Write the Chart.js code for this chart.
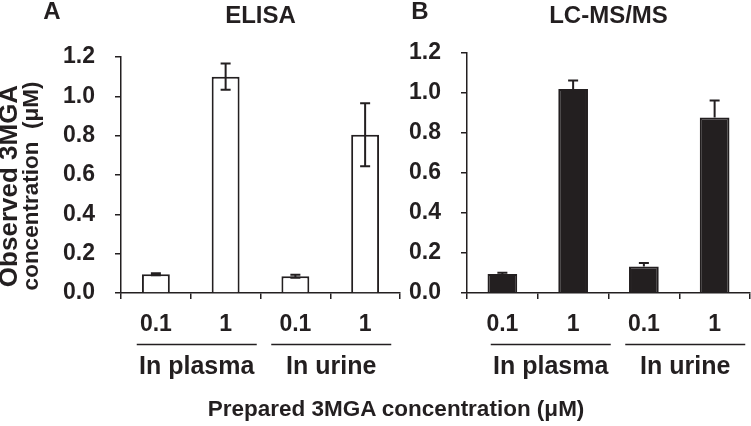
<!DOCTYPE html>
<html>
<head>
<meta charset="utf-8">
<script src="https://cdn.jsdelivr.net/npm/chart.js@4.4.0/dist/chart.umd.min.js"></script>
<style>
    body { margin: 0; background: #fff; }
    #wrap { position: relative; width: 751px; height: 426px; overflow: hidden; }
    canvas { position: absolute; top: 0; }
    #xtitle {
        position: absolute; top: 396px; left: 396px; transform: translateX(-50%);
        font: bold 22.5px "Liberation Sans", Arial, sans-serif; color: #231f20; white-space: nowrap;
    }
</style>
</head>
<body>
<div id="wrap">
    <canvas id="ElisaChart" width="405" height="426" style="left:0"></canvas>
    <canvas id="LcmsChart" width="346" height="426" style="left:405px"></canvas>
    <div id="xtitle">Prepared 3MGA concentration (μM)</div>
</div>
<script>
// values
var doseLabels = ['0.1', '1', '0.1', '1'];
var matrixGroups = ['In plasma', 'In urine'];
var yTicks = [0, 0.2, 0.4, 0.6, 0.8, 1.0, 1.2];

var elisaMean = [0.095, 1.10, 0.085, 0.805];
var elisaErr = [0.005, 0.067, 0.008, 0.16];

var lcmsMean = [0.095, 1.02, 0.133, 0.878];
var lcmsErr = [0.006, 0.043, 0.017, 0.085];

var ink = '#231f20';
var family = '"Liberation Sans", Arial, sans-serif';

// error bars, panel letters, titles and the group underlines
var annotate = {
    id: 'annotate',
    afterDatasetsDraw: function (chart, args, opts) {
        var ctx = chart.ctx, area = chart.chartArea;
        var xs = chart.scales.x, ys = chart.scales.y;
        var meta = chart.getDatasetMeta(0);
        var values = chart.data.datasets[0].data;

        ctx.save();
        ctx.strokeStyle = ink;
        ctx.lineWidth = 2;
        meta.data.forEach(function (bar, i) {
            var top = ys.getPixelForValue(values[i] + opts.errors[i]);
            var bot = opts.bothSides ? ys.getPixelForValue(values[i] - opts.errors[i]) : bar.y;
            ctx.beginPath();
            ctx.moveTo(bar.x, top); ctx.lineTo(bar.x, bot);
            ctx.moveTo(bar.x - 5, top); ctx.lineTo(bar.x + 5, top);
            if (opts.bothSides) {
                ctx.moveTo(bar.x - 5, bot); ctx.lineTo(bar.x + 5, bot);
            }
            ctx.stroke();
        });

        ctx.fillStyle = ink;
        ctx.textAlign = 'center';
        ctx.textBaseline = 'middle';
        ctx.font = 'bold 24px ' + family;
        ctx.fillText(opts.title, (area.left + area.right) / 2, 16);
        ctx.fillText(opts.letter, opts.letterX, 12);

        ctx.font = 'bold 25px ' + family;
        matrixGroups.forEach(function (g, k) {
            var cx = (xs.getPixelForValue(2 * k) + xs.getPixelForValue(2 * k + 1)) / 2 + opts.groupShift[k];
            ctx.beginPath();
            ctx.lineWidth = 1.5;
            ctx.moveTo(cx - 60, 344.5); ctx.lineTo(cx + 60, 344.5);
            ctx.stroke();
            ctx.fillText(g, cx, 367);
        });

        if (opts.yTitle) {
            ctx.translate(21, 186);
            ctx.rotate(-Math.PI / 2);
            ctx.font = 'bold 26px ' + family;
            ctx.fillText(opts.yTitle[0], 0, -11);
            ctx.font = 'bold 22.5px ' + family;
            ctx.fillText(opts.yTitle[1], 0, 11);
        }
        ctx.restore();
    }
};

function makePanel(id, mean, fill, barPct, axisWidth, pad, ann) {
    return new Chart(document.getElementById(id), {
        type: 'bar',
        data: {
            labels: doseLabels,
            datasets: [{
                data: mean,
                backgroundColor: fill,
                borderColor: ink,
                borderWidth: 2,
                categoryPercentage: 1,
                barPercentage: barPct
            }]
        },
        options: {
            responsive: false,
            animation: false,
            layout: { padding: pad },
            plugins: {
                legend: { display: false },
                tooltip: { enabled: false },
                annotate: ann
            },
            scales: {
                x: {
                    afterFit: function (s) { s.height = 133; },
                    ticks: { color: ink, padding: 12, font: { size: 23, weight: 'bold', family: family } },
                    grid: { offset: true, drawOnChartArea: false, tickLength: 6, color: ink, lineWidth: 1.5 },
                    border: { color: ink, width: 1.5 }
                },
                y: {
                    min: 0,
                    max: 1.2,
                    afterFit: function (s) { s.width = axisWidth; },
                    afterBuildTicks: function (s) {
                        s.ticks = yTicks.map(function (v) { return { value: v }; });
                    },
                    ticks: {
                        color: ink, padding: 20,
                        font: { size: 23, weight: 'bold', family: family },
                        callback: function (v) { return v.toFixed(1); }
                    },
                    grid: { drawOnChartArea: false, tickLength: 6, color: ink, lineWidth: 1.5 },
                    border: { color: ink, width: 1.5 }
                }
            }
        },
        plugins: [annotate]
    });
}

makePanel('ElisaChart', elisaMean, '#ffffff', 0.4, 121, { top: 57, right: 5 }, {
    errors: elisaErr, bothSides: true, title: 'ELISA', letter: 'A', letterX: 52,
    groupShift: [6, 1], yTitle: ['Observed 3MGA', 'concentration  (μM)']
});

makePanel('LcmsChart', lcmsMean, ink, 0.42, 62, { top: 53, right: 1 }, {
    errors: lcmsErr, bothSides: false, title: 'LC-MS/MS', letter: 'B', letterX: 15,
    groupShift: [13, 6]
});
</script>
</body>
</html>
